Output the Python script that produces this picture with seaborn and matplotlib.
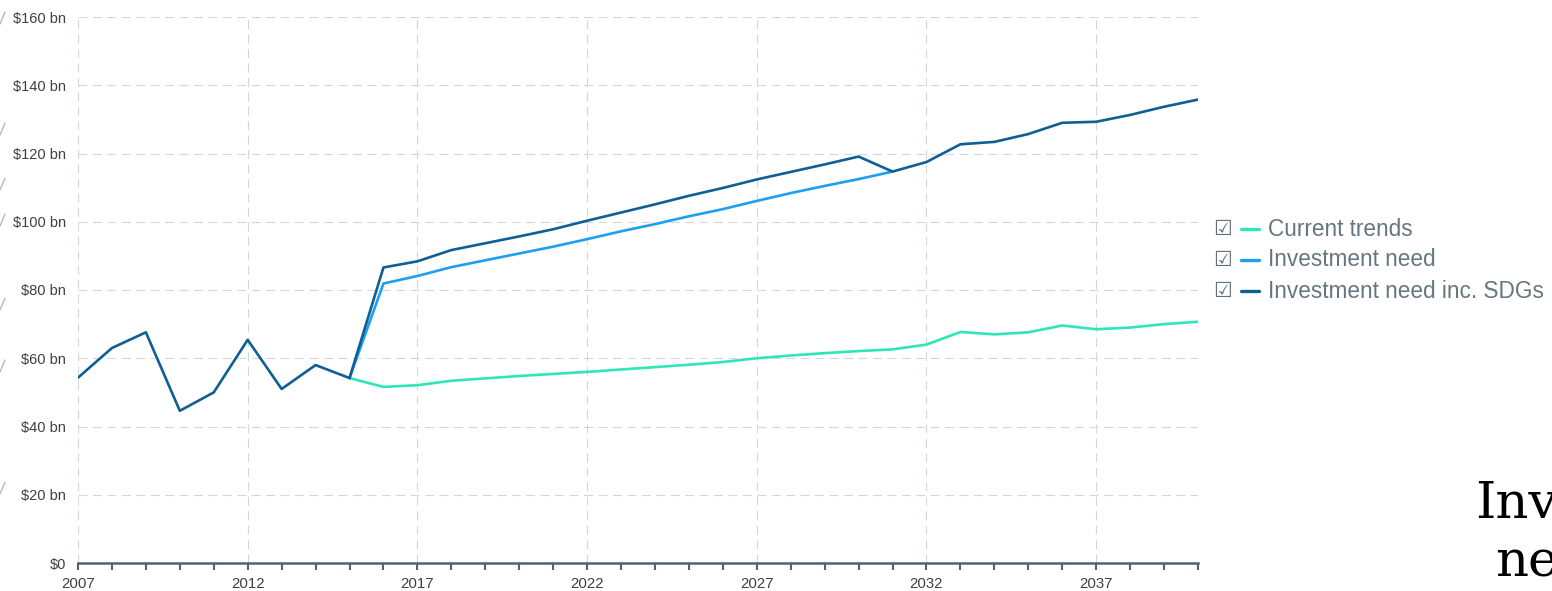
import pandas as pd
import seaborn as sns
import matplotlib.pyplot as plt
from matplotlib.lines import Line2D
from matplotlib.ticker import FuncFormatter

# Values in $ bn
hist_years = list(range(2007, 2016))
history = [54.3, 63.0, 67.6, 44.6, 50.0, 65.4, 51.0, 58.0, 54.2]

proj_years = list(range(2015, 2041))
current_trends = [54.2, 51.6, 52.1, 53.4, 54.1, 54.8, 55.4, 56.0, 56.7, 57.4,
                  58.1, 58.9, 60.0, 60.8, 61.5, 62.1, 62.6, 64.0, 67.7, 67.0,
                  67.6, 69.6, 68.5, 69.0, 70.0, 70.7]
need_years = list(range(2015, 2032))
investment_need = [54.2, 81.9, 84.1, 86.7, 88.7, 90.7, 92.7, 94.9, 97.2, 99.3,
                   101.6, 103.7, 106.1, 108.4, 110.5, 112.5, 114.7]
need_sdgs = [54.2, 86.6, 88.4, 91.7, 93.7, 95.7, 97.8, 100.3, 102.7, 105.1,
             107.6, 109.9, 112.4, 114.6, 116.8, 119.1, 114.7, 117.5, 122.7, 123.4,
             125.7, 129.0, 129.3, 131.3, 133.7, 135.8]

series_names = ["Current trends", "Investment need", "Investment need inc. SDGs"]
colors = {"Current trends": "#2ee6b8", "Investment need": "#1d9ff2",
          "Investment need inc. SDGs": "#0f5f94", "History": "#0f5f94"}

df = pd.concat([
    pd.DataFrame({"year": proj_years, "value": current_trends, "series": "Current trends"}),
    pd.DataFrame({"year": need_years, "value": investment_need, "series": "Investment need"}),
    pd.DataFrame({"year": proj_years, "value": need_sdgs, "series": "Investment need inc. SDGs"}),
    pd.DataFrame({"year": hist_years, "value": history, "series": "History"}),
])

sns.set_style("white")
plt.rcParams['font.family'] = ['Liberation Sans', 'DejaVu Sans']

W, H = 1552, 591
fig = plt.figure(figsize=(W / 100, H / 100), dpi=100)
ax = fig.add_axes([78 / W, 1 - 563 / H, (1198 - 78) / W, (563 - 17) / H])

sns.lineplot(data=df, x="year", y="value", hue="series",
             hue_order=series_names + ["History"], palette=colors,
             linewidth=1.9, legend=False, ax=ax)

ax.set_xlim(2007, 2040)
ax.set_ylim(0, 160)
ax.set_xlabel("")
ax.set_ylabel("")
ax.set_xticks(range(2007, 2041, 5))
ax.set_xticks(range(2007, 2041), minor=True)
ax.set_yticks(range(0, 161, 20))
ax.yaxis.set_major_formatter(FuncFormatter(lambda v, p: "$0" if v == 0 else f"${v:.0f} bn"))

ax.grid(True, which="major", color="#d0d8dc", linewidth=0.8, linestyle=(0, (8, 5)))
for s in ["top", "right", "left"]:
    ax.spines[s].set_visible(False)
ax.spines["bottom"].set_color("#52636f")
ax.spines["bottom"].set_linewidth(1.8)
ax.tick_params(axis="x", which="both", bottom=True, direction="out", length=5, width=1.5,
               color="#52636f", labelsize=10.8, labelcolor="#404040", pad=5)
ax.tick_params(axis="y", length=0, labelsize=10.5, labelcolor="#404040", pad=8.6)

# legend with check boxes
for i, name in enumerate(series_names):
    y = 1 - (229 + 31 * i) / H
    fig.text(1213 / W, y, "\u2611", color="#5f6f7b", fontsize=15,
             family="DejaVu Sans", va="center")
    fig.add_artist(Line2D([1241 / W, 1259 / W], [y, y], color=colors[name], linewidth=2.4))
    fig.text(1268 / W, y, name, color="#66767f", fontsize=16.3, va="center")

# faint cut-off marks on the left edge
for top in [12, 123, 178, 214, 298, 360, 482]:
    fig.add_artist(Line2D([0, 5 / W], [1 - (top + 12) / H, 1 - top / H],
                          color="#b8b8b8", linewidth=1))

# clipped label on the right edge
fig.text(1475 / W, 1 - 518 / H, "Investment", family="DejaVu Serif", fontsize=37,
         va="baseline", color="black")
fig.text(1495 / W, 1 - 575 / H, "need", family="DejaVu Serif", fontsize=37,
         va="baseline", color="black")

plt.savefig("out.png", dpi=100)
